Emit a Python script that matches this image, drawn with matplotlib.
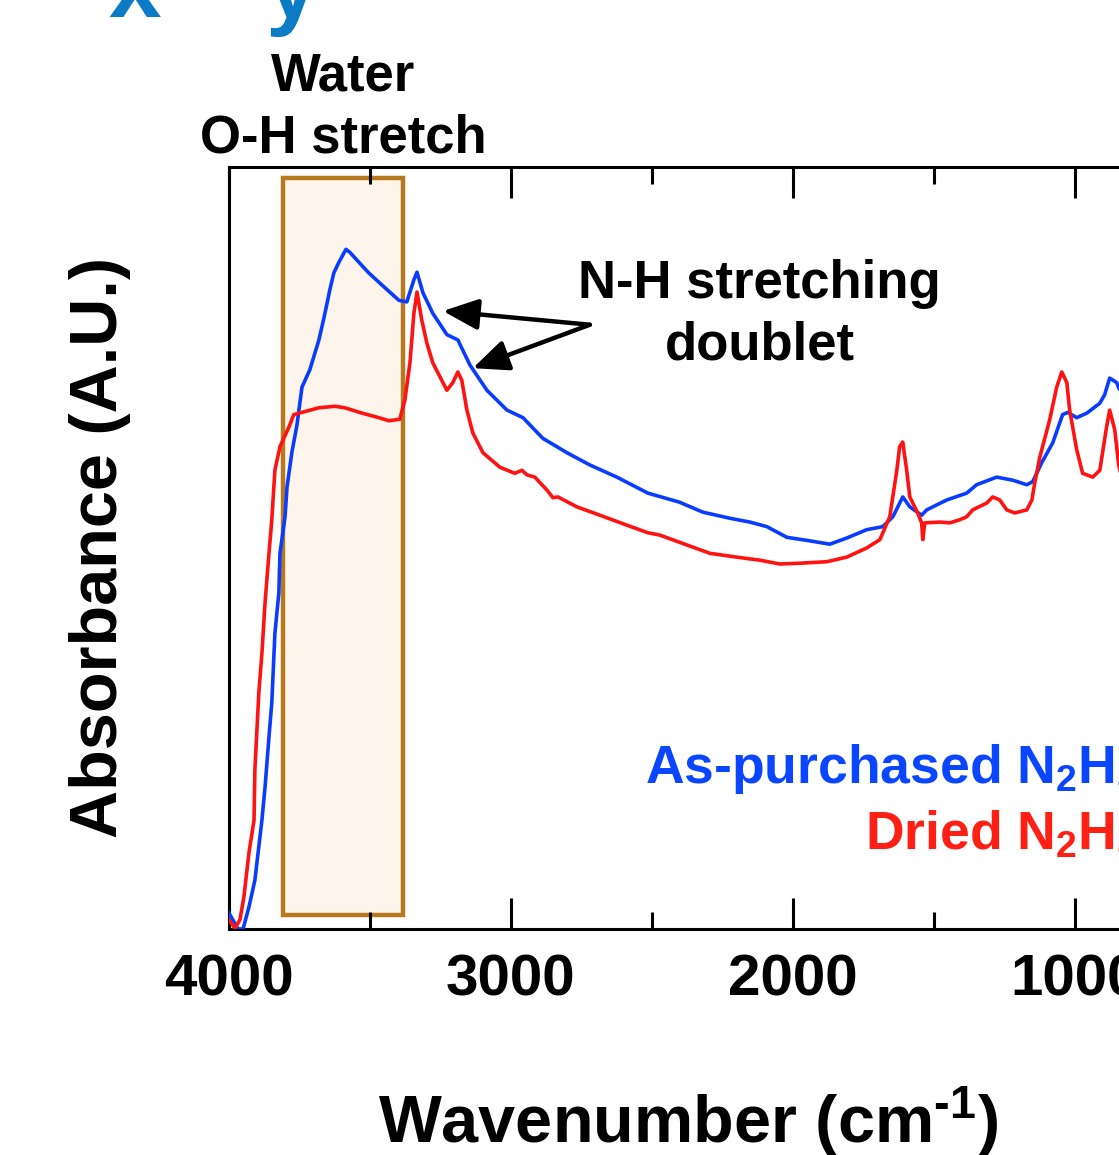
"""FTIR absorbance of as-purchased vs dried N2H4 sample, with the water O-H band
and the N-H stretching doublet marked."""
import matplotlib
matplotlib.use("Agg")
import matplotlib.pyplot as plt
from matplotlib.patches import Rectangle

plt.rcParams["font.family"] = ["Liberation Sans", "DejaVu Sans"]
plt.rcParams["font.weight"] = "bold"
plt.rcParams["mathtext.fontset"] = "custom"
plt.rcParams["mathtext.rm"] = "Liberation Sans:bold"
plt.rcParams["mathtext.bf"] = "Liberation Sans:bold"
plt.rcParams["mathtext.it"] = "Liberation Sans:bold"

# as-purchased spectrum (wavenumber, absorbance in A.U.)
wn_asp = [4000, 3968, 3950, 3929, 3908, 3883, 3872, 3858, 3848, 3837, 3823, 3819,
          3801, 3794, 3777, 3759, 3741, 3713, 3681, 3663, 3642, 3628, 3610, 3585,
          3571, 3539, 3504, 3457, 3397, 3369, 3344, 3333, 3312, 3277, 3227, 3188,
          3145, 3085, 3014, 2957, 2887, 2801, 2720, 2624, 2514, 2401, 2319, 2223,
          2152, 2092, 2021, 1950, 1869, 1809, 1738, 1681, 1645, 1610, 1585, 1543,
          1525, 1454, 1383, 1348, 1277, 1220, 1170, 1149, 1117, 1078, 1043, 1025,
          993, 957, 911, 894, 876, 851, 844, 823]
ab_asp = [0.021, 0.000, 0.000, 0.029, 0.064, 0.143, 0.186, 0.252, 0.297, 0.388,
          0.441, 0.493, 0.541, 0.580, 0.625, 0.661, 0.711, 0.734, 0.773, 0.802,
          0.839, 0.861, 0.875, 0.892, 0.888, 0.875, 0.861, 0.845, 0.825, 0.823,
          0.852, 0.862, 0.835, 0.808, 0.780, 0.773, 0.740, 0.707, 0.681, 0.671,
          0.644, 0.625, 0.609, 0.593, 0.572, 0.560, 0.547, 0.539, 0.534, 0.528,
          0.514, 0.510, 0.505, 0.513, 0.524, 0.528, 0.541, 0.567, 0.554, 0.543,
          0.550, 0.563, 0.572, 0.583, 0.593, 0.589, 0.583, 0.587, 0.612, 0.638,
          0.675, 0.678, 0.671, 0.677, 0.690, 0.701, 0.723, 0.717, 0.710, 0.700]

# dried spectrum
wn_dry = [4000, 3979, 3961, 3947, 3929, 3911, 3908, 3894, 3883, 3872, 3858, 3848,
          3837, 3819, 3787, 3770, 3741, 3681, 3624, 3589, 3528, 3468, 3433, 3394,
          3376, 3358, 3344, 3333, 3316, 3298, 3277, 3227, 3206, 3188, 3174, 3156,
          3135, 3099, 3039, 2986, 2961, 2943, 2915, 2872, 2851, 2833, 2766, 2684,
          2589, 2514, 2472, 2376, 2294, 2199, 2117, 2046, 1975, 1879, 1809, 1738,
          1691, 1656, 1631, 1621, 1610, 1596, 1585, 1557, 1543, 1539, 1532, 1479,
          1443, 1408, 1383, 1362, 1312, 1291, 1266, 1241, 1213, 1170, 1152, 1142,
          1124, 1089, 1064, 1046, 1028, 1018, 993, 972, 936, 911, 887, 876, 858,
          844, 823]
ab_dry = [0.012, 0.001, 0.012, 0.042, 0.100, 0.143, 0.209, 0.310, 0.362, 0.428,
          0.493, 0.537, 0.602, 0.633, 0.659, 0.675, 0.678, 0.684, 0.686, 0.684,
          0.677, 0.671, 0.667, 0.669, 0.694, 0.743, 0.808, 0.836, 0.799, 0.769,
          0.743, 0.707, 0.717, 0.731, 0.720, 0.681, 0.651, 0.625, 0.606, 0.598,
          0.602, 0.596, 0.593, 0.576, 0.566, 0.567, 0.554, 0.543, 0.530, 0.520,
          0.517, 0.504, 0.493, 0.488, 0.484, 0.479, 0.480, 0.482, 0.488, 0.500,
          0.511, 0.541, 0.602, 0.633, 0.639, 0.602, 0.567, 0.546, 0.533, 0.511,
          0.533, 0.534, 0.533, 0.537, 0.541, 0.550, 0.559, 0.567, 0.563, 0.550,
          0.546, 0.550, 0.563, 0.585, 0.619, 0.668, 0.711, 0.731, 0.717, 0.681,
          0.629, 0.598, 0.593, 0.602, 0.659, 0.681, 0.655, 0.609, 0.576]

water_band = (3808, 3383)  # cm-1
nh_doublet = [(3241, 0.811), (3135, 0.736)]

BLUE = "#0a3cff"
RED = "#ff1212"

fig = plt.figure(figsize=(11.19, 11.55), dpi=100)
ax = fig.add_axes([0.2046, 0.1957, 0.907, 0.6597])

ax.add_patch(Rectangle((water_band[1], 0.018), water_band[0] - water_band[1], 0.968,
                       facecolor="#fdf5eb", edgecolor="#b8781e", lw=3.2, zorder=1))
ax.plot(wn_asp, ab_asp, color=BLUE, lw=2.6, zorder=3)
ax.plot(wn_dry, ab_dry, color=RED, lw=2.6, zorder=3)

ax.set_xlim(4000, 400)
ax.set_ylim(0, 1)
ax.set_xticks([4000, 3000, 2000, 1000])
ax.set_xticks([3500, 2500, 1500, 500], minor=True)
ax.set_yticks([])
ax.tick_params(axis="x", which="both", direction="in", top=True, width=2.2,
               labelsize=42, pad=18)
ax.tick_params(axis="x", which="major", length=22)
ax.tick_params(axis="x", which="minor", length=12)
for sp in ax.spines.values():
    sp.set_linewidth(2.2)

# annotations
ax.text(3596, 1.078, "Water\nO-H stretch", fontsize=38, ha="center", va="center",
        linespacing=1.3, clip_on=False)
ax.text(2117, 0.806, "N-H stretching\ndoublet", fontsize=38, ha="center", va="center",
        linespacing=1.3)
for x, y in nh_doublet:
    ax.annotate("", xy=(x, y), xytext=(2720, 0.793),
                arrowprops=dict(arrowstyle="-|>,head_length=0.8,head_width=0.35",
                                color="black", lw=3.2, mutation_scale=27,
                                shrinkA=0, shrinkB=0))

ax.text(770, 0.192, "As-purchased N$_2$H$_4$", color="#0a46ff", fontsize=38.5,
        ha="right", va="baseline", clip_on=False)
ax.text(770, 0.104, "Dried N$_2$H$_4$", color="#ff2015", fontsize=38.5,
        ha="right", va="baseline", clip_on=False)

fig.text(100 / 1119, 1 - 547 / 1155, "Absorbance (A.U.)", rotation=90,
         fontsize=48, ha="center", va="center")
fig.text(688 / 1119, 12 / 1155, "Wavenumber (cm$^{\u2010 1}$)", fontsize=48,
         ha="center", va="baseline")

# remnants of the panel above, cut by the crop
fig.text(135 / 1119, 1 - 17 / 1155, "x", color="#0a7bc4", fontsize=68,
         ha="center", va="baseline")
fig.text(292 / 1119, 1 - 17 / 1155, "y", color="#0a7bc4", fontsize=68,
         ha="center", va="baseline")

fig.savefig("out.png", dpi=100)
